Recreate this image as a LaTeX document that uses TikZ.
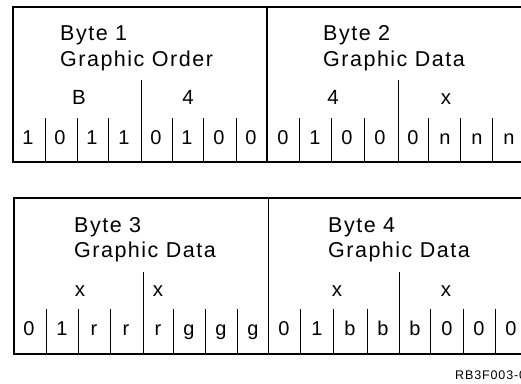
\documentclass[tikz,border=0pt]{standalone}
\usepackage{fontspec}
\setmainfont{Liberation Sans}[LetterSpace=7]
\begin{document}
\begin{tikzpicture}[x=1pt,y=-1pt,
  frame/.style={line width=1.3pt,line cap=rect},
  cellrule/.style={line width=0.8pt},
  title/.style={inner sep=0pt,anchor=base west,font=\fontsize{21.5}{21.5}\selectfont},
  nib/.style={inner sep=0pt,anchor=base,font=\fontsize{20.5}{20.5}\selectfont},
  bit/.style={inner sep=0pt,anchor=base,font=\fontsize{20}{20}\selectfont},
  tag/.style={inner sep=0pt,anchor=base west,font=\fontsize{12.5}{13}\selectfont}]
\useasboundingbox (0,0) rectangle (521,383);
\clip (0,0) rectangle (521,383);

% ---- upper word: bytes 1 and 2 ----
\draw[frame] (13,7) rectangle (524,162);
\draw[frame] (267,7) -- (267,162);
\foreach \x in {141,398} \draw[cellrule] (\x,80) -- (\x,162);
\foreach \x in {45,77,108,172,203,236,299,331,364,428,460,492}
  \draw[cellrule] (\x,118) -- (\x,162);

\node[title] (b1a) at (60,40) {Byte 1};
\node[title] (b1b) at (60,66) {Graphic Order};
\node[title] (b2a) at (323,40) {Byte 2};
\node[title] (b2b) at (323,66) {Graphic Data};

\node[nib] (n1h) at (79,104) {B};
\node[nib] (n1l) at (188,104) {4};
\node[nib] (n2h) at (333,104) {4};
\node[nib] (n2l) at (446,104) {x};

\foreach \c/\t [count=\i] in {28/1,60/0,92/1,124/1,156/0,187/1,219/0,251/0,
                               283/0,315/1,347/0,380/0,413/0,445/n,477/n,509/n}
  \node[bit] (w1b\i) at (\c,144) {\t};

% ---- lower word: bytes 3 and 4 ----
\draw[frame] (14,198) rectangle (527,354);
\draw[frame] (268.5,198) -- (268.5,354);
\foreach \x in {143,399} \draw[cellrule] (\x,272) -- (\x,354);
\foreach \x in {46,78,110,173,205,237,300,333,367,430,463,495}
  \draw[cellrule] (\x,309) -- (\x,354);

\node[title] (b3a) at (74,232) {Byte 3};
\node[title] (b3b) at (74,257) {Graphic Data};
\node[title] (b4a) at (328,232) {Byte 4};
\node[title] (b4b) at (328,257) {Graphic Data};

\node[nib] (n3h) at (80,296) {x};
\node[nib] (n3l) at (158,296) {x};
\node[nib] (n4h) at (337,296) {x};
\node[nib] (n4l) at (446,296) {x};

\foreach \c/\t [count=\i] in {29/0,62/1,94/r,126/r,158/r,189/g,221/g,253/g,
                               284/0,317/1,350/b,383/b,415/b,447/0,479/0,511/0}
  \node[bit] (w2b\i) at (\c,335) {\t};

\node[tag] (fig) at (455,379) {RB3F003-0};
\end{tikzpicture}
\end{document}
